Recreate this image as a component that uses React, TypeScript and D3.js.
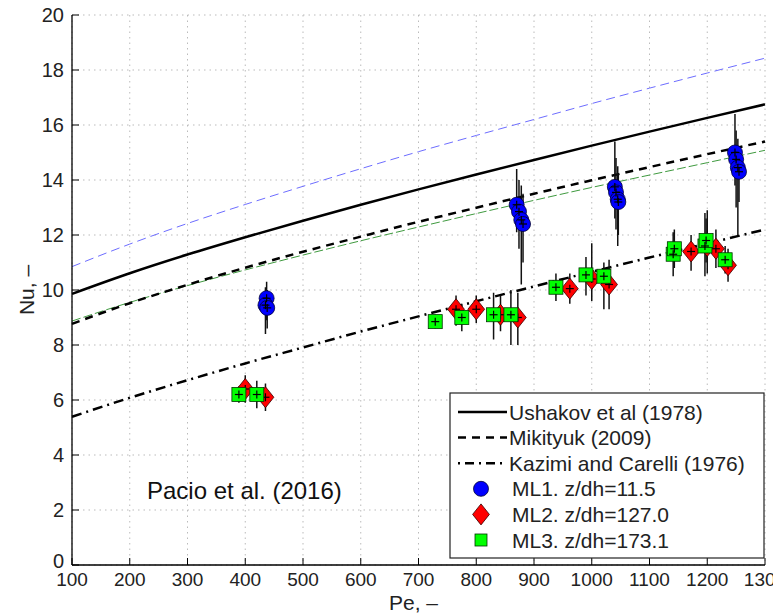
import React from "react";
import * as d3 from "d3";

const W = 773, H = 616;
const M = { left: 72, right: 765, top: 15, bottom: 565 };

const peGrid = [100, 200, 300, 400, 500, 600, 700, 800, 900, 1000, 1100, 1200, 1300];
const ushakov = [9.86, 10.61, 11.29, 11.92, 12.52, 13.1, 13.66, 14.2, 14.73, 15.25, 15.76, 16.26, 16.75];
const ushakovUp = [10.85, 11.67, 12.42, 13.11, 13.77, 14.41, 15.03, 15.62, 16.2, 16.78, 17.34, 17.89, 18.43];
const ushakovLow = [8.87, 9.55, 10.16, 10.73, 11.27, 11.79, 12.29, 12.78, 13.26, 13.73, 14.18, 14.63, 15.08];
const mikityuk = [8.77, 9.52, 10.19, 10.81, 11.39, 11.94, 12.48, 12.99, 13.5, 13.99, 14.47, 14.94, 15.4];
const kazimi = [5.39, 6.08, 6.72, 7.33, 7.91, 8.49, 9.04, 9.59, 10.13, 10.66, 11.18, 11.69, 12.2];

const ml1Pe = [437, 435, 438, 870, 874, 878, 881, 1040, 1042, 1045, 1046, 1248, 1250, 1253, 1255];
const ml1Nu = [9.7, 9.45, 9.35, 13.1, 12.85, 12.55, 12.4, 13.75, 13.55, 13.3, 13.2, 15.0, 14.75, 14.45, 14.3];
const ml1Lo = [8.9, 8.4, 8.6, 12.1, 11.5, 10.2, 11.0, 12.6, 12.2, 11.6, 12.0, 13.8, 13.0, 12.0, 13.2];
const ml1Hi = [10.3, 10.1, 10.0, 14.4, 14.0, 13.8, 13.5, 15.4, 14.8, 14.5, 14.2, 16.4, 15.8, 15.5, 15.2];

const ml2Pe = [400, 435, 765, 800, 842, 872, 962, 1000, 1030, 1172, 1200, 1215, 1236];
const ml2Nu = [6.4, 6.1, 9.3, 9.3, 9.1, 9.0, 10.05, 10.4, 10.2, 11.4, 11.6, 11.5, 10.9];
const ml2Lo = [5.9, 5.6, 8.7, 8.8, 8.5, 8.0, 9.5, 9.6, 9.3, 10.7, 10.6, 10.8, 10.3];
const ml2Hi = [6.9, 6.6, 9.8, 9.8, 9.8, 9.9, 10.6, 11.7, 11.1, 12.0, 12.9, 12.2, 11.5];

const ml3Pe = [389, 420, 729, 775, 830, 860, 938, 990, 1021, 1141, 1143, 1196, 1198, 1231];
const ml3Nu = [6.2, 6.2, 8.85, 9.0, 9.1, 9.1, 10.1, 10.55, 10.5, 11.3, 11.5, 11.6, 11.8, 11.1];
const ml3Lo = [5.9, 5.7, 8.6, 8.5, 8.2, 8.0, 9.6, 9.8, 9.3, 10.5, 10.8, 10.5, 11.0, 10.6];
const ml3Hi = [6.5, 6.7, 9.1, 9.5, 9.9, 10.0, 10.6, 11.2, 11.0, 12.1, 12.2, 12.8, 12.6, 11.6];

const xTicks = [100, 200, 300, 400, 500, 600, 700, 800, 900, 1000, 1100, 1200, 1300];
const yTicks = [0, 2, 4, 6, 8, 10, 12, 14, 16, 18, 20];

const legendLabels = [
  "Ushakov et al (1978)",
  "Mikityuk (2009)",
  "Kazimi and Carelli (1976)",
  "ML1. z/dh=11.5",
  "ML2. z/dh=127.0",
  "ML3. z/dh=173.1",
];

const FONT = "'Liberation Sans', Arial, sans-serif";

export default function App() {
  const x = d3.scaleLinear().domain([100, 1300]).range([M.left, M.right]);
  const y = d3.scaleLinear().domain([0, 20]).range([M.bottom, M.top]);
  const line = (vals: number[]) =>
    d3.line<number>().x((_, i) => x(peGrid[i])).y((v) => y(v)).curve(d3.curveMonotoneX)(vals) || "";

  const errBars = (pe: number[], lo: number[], hi: number[], key: string) =>
    pe.map((p, i) => (
      <line key={key + i} x1={x(p)} x2={x(p)} y1={y(lo[i])} y2={y(hi[i])} stroke="#111" strokeWidth={1.5} />
    ));
  const cross = (px: number, py: number, k: string) => (
    <g key={k}>
      <line x1={px - 4} x2={px + 4} y1={py} y2={py} stroke="#000" strokeWidth={1.2} />
      <line x1={px} x2={px} y1={py - 4} y2={py + 4} stroke="#000" strokeWidth={1.2} />
    </g>
  );
  const diamond = (px: number, py: number, r: number) =>
    `M${px},${py - r}L${px + r * 0.8},${py}L${px},${py + r}L${px - r * 0.8},${py}Z`;

  const lx = 450, ly = 393, lw = 314, lh = 165;
  const rowH = 25.6;
  const r0 = 412;

  return (
    <svg width={W} height={H} style={{ position: "absolute", left: 0, top: 0, background: "#fff" }} fontFamily={FONT}>
      <rect x={0} y={0} width={W} height={H} fill="#fff" />
      {/* grid */}
      {xTicks.map((t) => (
        <line key={"gx" + t} x1={x(t)} x2={x(t)} y1={M.top} y2={M.bottom} stroke="#bbb" strokeWidth={1} strokeDasharray="1.5,4" />
      ))}
      {yTicks.map((t) => (
        <line key={"gy" + t} x1={M.left} x2={M.right} y1={y(t)} y2={y(t)} stroke="#bbb" strokeWidth={1} strokeDasharray="1.5,4" />
      ))}
      {/* curves */}
      <path d={line(ushakovUp)} fill="none" stroke="#6d6dff" strokeWidth={1} strokeDasharray="9,5" />
      <path d={line(ushakovLow)} fill="none" stroke="#3f9a3f" strokeWidth={1} strokeDasharray="9,3" />
      <path d={line(ushakov)} fill="none" stroke="#000" strokeWidth={2.5} />
      <path d={line(mikityuk)} fill="none" stroke="#000" strokeWidth={2.5} strokeDasharray="8,6" />
      <path d={line(kazimi)} fill="none" stroke="#000" strokeWidth={2.5} strokeDasharray="10,5,2,5" />
      {/* error bars */}
      {errBars(ml1Pe, ml1Lo, ml1Hi, "e1")}
      {errBars(ml2Pe, ml2Lo, ml2Hi, "e2")}
      {errBars(ml3Pe, ml3Lo, ml3Hi, "e3")}
      {/* markers */}
      {ml1Pe.map((p, i) => (
        <circle key={"m1" + i} cx={x(p)} cy={y(ml1Nu[i])} r={7.5} fill="#0000ff" stroke="#000033" strokeWidth={0.8} />
      ))}
      {ml1Pe.map((p, i) => cross(x(p), y(ml1Nu[i]), "c1" + i))}
      {ml2Pe.map((p, i) => (
        <path key={"m2" + i} d={diamond(x(p), y(ml2Nu[i]), 10.5)} fill="#ff0000" stroke="#330000" strokeWidth={0.8} />
      ))}
      {ml2Pe.map((p, i) => cross(x(p), y(ml2Nu[i]), "c2" + i))}
      {ml3Pe.map((p, i) => (
        <rect key={"m3" + i} x={x(p) - 7} y={y(ml3Nu[i]) - 7} width={14} height={14} fill="#00ff00" stroke="#003300" strokeWidth={0.8} />
      ))}
      {ml3Pe.map((p, i) => cross(x(p), y(ml3Nu[i]), "c3" + i))}
      {/* axes */}
      <line x1={M.left} x2={M.right} y1={M.bottom} y2={M.bottom} stroke="#000" strokeWidth={1.3} />
      <line x1={M.left} x2={M.left} y1={M.top} y2={M.bottom} stroke="#000" strokeWidth={1.3} />
      {xTicks.map((t) => (
        <g key={"xt" + t}>
          <line x1={x(t)} x2={x(t)} y1={M.bottom} y2={M.bottom - 7} stroke="#000" strokeWidth={1} />
          <text x={x(t)} y={M.bottom + 21} textAnchor="middle" fontSize={19} fill="#222">{t}</text>
        </g>
      ))}
      {yTicks.map((t) => (
        <g key={"yt" + t}>
          <line x1={M.left} x2={M.left + 7} y1={y(t)} y2={y(t)} stroke="#000" strokeWidth={1} />
          <text x={M.left - 8} y={y(t) + (t === 0 ? 3 : 7)} textAnchor="end" fontSize={20} fill="#222">{t}</text>
        </g>
      ))}
      <text x={x(700) - 5} y={610} textAnchor="middle" fontSize={21} fill="#222">Pe, –</text>
      <text transform={`translate(34,${y(10)}) rotate(-90)`} textAnchor="middle" fontSize={21} fill="#222">Nu, –</text>
      <text x={147} y={499} fontSize={24} fill="#111">Pacio et al. (2016)</text>
      {/* legend */}
      <rect x={lx} y={ly} width={lw} height={lh} fill="#fff" stroke="#222" strokeWidth={1.2} />
      <line x1={458} x2={507} y1={r0} y2={r0} stroke="#000" strokeWidth={2.5} />
      <line x1={458} x2={507} y1={r0 + rowH} y2={r0 + rowH} stroke="#000" strokeWidth={2.5} strokeDasharray="8,6" />
      <line x1={458} x2={507} y1={r0 + 2 * rowH} y2={r0 + 2 * rowH} stroke="#000" strokeWidth={2.5} strokeDasharray="2,5,9,5" />
      <circle cx={481} cy={r0 + 3 * rowH} r={7.5} fill="#0000ff" stroke="#000033" strokeWidth={0.8} />
      <path d={diamond(481, r0 + 4 * rowH, 10.5)} fill="#ff0000" stroke="#330000" strokeWidth={0.8} />
      <rect x={475} y={r0 + 5 * rowH - 6} width={12} height={12} fill="#00ff00" stroke="#003300" strokeWidth={0.8} />
      {legendLabels.map((s, i) => (
        <text key={"lg" + i} x={i < 3 ? 509 : 512} y={r0 + 7.5 + i * rowH} fontSize={21} fill="#222">{s}</text>
      ))}
    </svg>
  );
}
